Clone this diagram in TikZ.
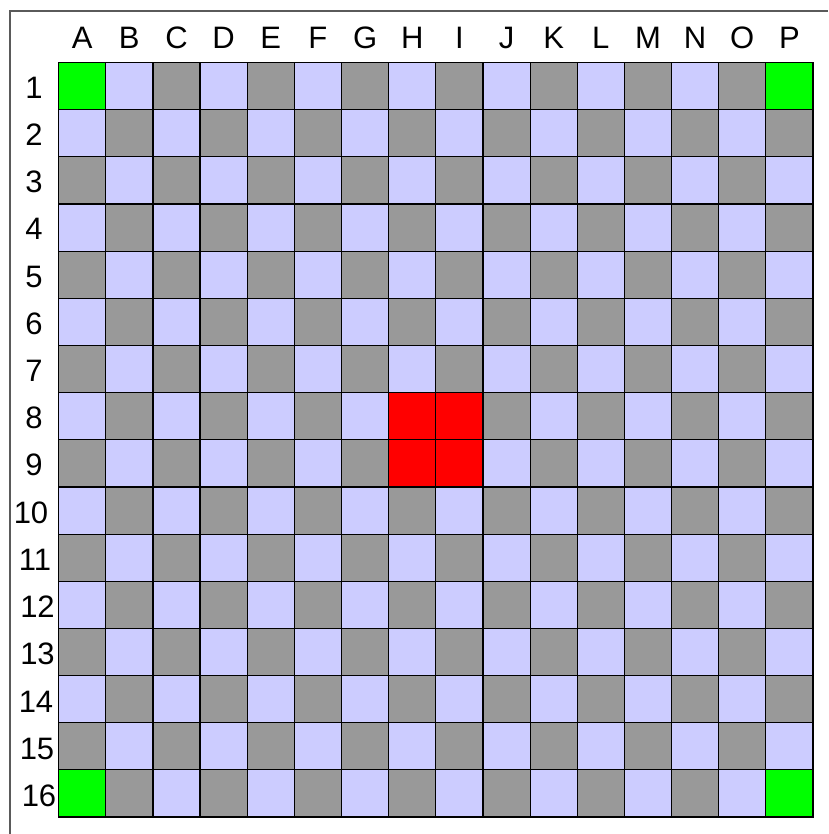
\documentclass[tikz,border=0pt]{standalone}
\usepackage{fontspec}
\setmainfont{Liberation Sans}
\definecolor{lav}{RGB}{204,204,255}
\definecolor{grc}{RGB}{153,153,153}
\definecolor{grn}{RGB}{0,255,0}
\definecolor{rd}{RGB}{255,0,0}
\definecolor{frm}{RGB}{90,90,90}
\tikzset{
  cell/.style={draw=black, line width=1.2pt, minimum size=47.15pt, inner sep=0pt, outer sep=0pt},
  lbl/.style={font=\fontsize{31}{37}\selectfont, anchor=base, inner sep=0pt},
}
\begin{document}
\begin{tikzpicture}[x=1pt,y=-1pt]
\useasboundingbox (0,0) rectangle (828,834);
\fill[white] (0,0) rectangle (828,834);
\coordinate (fa) at (10,834);
\coordinate (fb) at (10,11);
\coordinate (fc) at (828,11);
\draw[frm, line width=1.2pt] (fa) -- (fb) -- (fc);
\def\xo{58.6}
\def\yo{62.6}
\def\s{47.15}
\foreach \i in {0,...,15}{
  \foreach \j in {0,...,15}{
    \pgfmathtruncatemacro{\pp}{mod(\i+\j,2)}
    \ifnum\pp=0 \def\cc{grc}\else\def\cc{lav}\fi
    \node[cell, fill=\cc] (c-\i-\j) at ({\xo+(\i+0.5)*\s},{\yo+(\j+0.5)*\s}) {};
  }
}
\foreach \i/\j in {0/0,15/0,0/15,15/15}{
  \node[cell, fill=grn] (g-\i-\j) at ({\xo+(\i+0.5)*\s},{\yo+(\j+0.5)*\s}) {};
}
\foreach \i/\j in {7/7,8/7,7/8,8/8}{
  \node[cell, fill=rd] (r-\i-\j) at ({\xo+(\i+0.5)*\s},{\yo+(\j+0.5)*\s}) {};
}
\foreach \L [count=\k from 0] in {A,B,C,D,E,F,G,H,I,J,K,L,M,N,O,P}{
  \node[lbl] (col-\k) at ({\xo+(\k+0.5)*\s},48.5) {\L};
}
\foreach \r/\xx in {1/34,2/34,3/34,4/34,5/34,6/34,7/34,8/34,9/34,10/31,11/35,12/37.5,13/37.5,14/36,15/37,16/39}{
  \node[lbl] (row-\r) at (\xx,{\yo+(\r-0.5)*\s+12+(\r-1)/15}) {\r};
}
\end{tikzpicture}
\end{document}
